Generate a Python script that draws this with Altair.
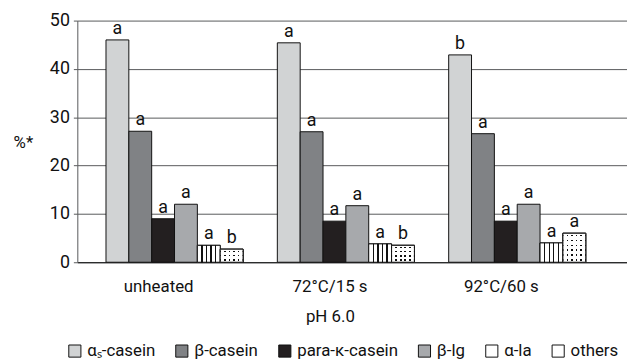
import altair as alt
import pandas as pd

groups = ["unheated", "72°C/15 s", "92°C/60 s"]
proteins = ["αₛ-casein", "β-casein", "para-κ-casein", "β-lg", "α-la", "others"]
colors = ["#d1d3d4", "#808285", "#231f20", "#a7a9ac", "#ffffff", "#ffffff"]

vals_unheated = [46.0, 27.1, 9.0, 12.0, 3.5, 2.7]
vals_72 = [45.4, 27.0, 8.5, 11.7, 3.8, 3.5]
vals_92 = [42.9, 26.6, 8.5, 12.0, 4.0, 6.0]
letters_unheated = ["a", "a", "a", "a", "a", "b"]
letters_72 = ["a", "a", "a", "a", "a", "b"]
letters_92 = ["b", "a", "a", "a", "a", "a"]

rows = []
for g, vs, ls in [(groups[0], vals_unheated, letters_unheated),
                  (groups[1], vals_72, letters_72),
                  (groups[2], vals_92, letters_92)]:
    for p, v, l in zip(proteins, vs, ls):
        rows.append({"group": g, "protein": p, "value": v, "letter": l})
df = pd.DataFrame(rows)

FONT = "Roboto"

x = alt.X("group:N", sort=groups, title="pH 6.0",
          scale=alt.Scale(domain=groups, paddingInner=0.2, paddingOuter=0.204, align=0.41),
          axis=alt.Axis(labelAngle=0, ticks=False, tickSize=0, labelPadding=17,
                        labelOffset=-16, labelFontSize=17, labelFont=FONT, labelColor="#111",
                        domainColor="#111", domainWidth=1.2,
                        titleFontSize=17, titleFont=FONT, titleFontWeight="normal",
                        titleColor="#111",
                        titleX=255, titleY=55, titleAlign="center", titleBaseline="middle"))
xo = alt.XOffset("protein:N", scale=alt.Scale(domain=proteins, paddingInner=0, paddingOuter=0))
y = alt.Y("value:Q", title="%*",
          scale=alt.Scale(domain=[0, 50], nice=False),
          axis=alt.Axis(values=[0, 10, 20, 30, 40, 50], grid=True, gridColor="#58595b",
                        gridWidth=1, domainColor="#58595b", tickColor="#58595b",
                        tickSize=4, labelFontSize=18, labelFont=FONT, labelPadding=4,
                        labelColor="#111",
                        titleAngle=0, titleX=-55, titleY=123, titleAlign="center",
                        titleBaseline="middle", titleFontSize=17, titleFont=FONT,
                        titleFontWeight="normal", titleColor="#111"))

base = alt.Chart(df).encode(x=x, xOffset=xo, y=y)

bars = base.mark_bar(stroke="#111", strokeWidth=1).encode(
    fill=alt.Fill("protein:N", scale=alt.Scale(domain=proteins, range=colors),
                  legend=alt.Legend(orient="none", legendX=-11, legendY=325,
                                    direction="horizontal", columns=6, title=None,
                                    symbolType="square", symbolSize=150,
                                    symbolStrokeColor="#111", symbolStrokeWidth=1,
                                    labelFontSize=17, labelFont=FONT, labelColor="#111",
                                    labelOffset=4, columnPadding=18))
)


def stripe_stops(positions, width, line_color="#111", bg="#ffffff"):
    stops = [alt.GradientStop(offset=0, color=bg)]
    for p in positions:
        stops += [alt.GradientStop(offset=p - width / 2, color=bg),
                  alt.GradientStop(offset=p - width / 2, color=line_color),
                  alt.GradientStop(offset=p + width / 2, color=line_color),
                  alt.GradientStop(offset=p + width / 2, color=bg)]
    stops.append(alt.GradientStop(offset=1, color=bg))
    return stops


vstripes = alt.Gradient(gradient="linear", x1=0, x2=1, y1=0, y2=0,
                        stops=stripe_stops([0.2, 0.4, 0.6, 0.8], 0.06))
dotcols = alt.Gradient(gradient="linear", x1=0, x2=1, y1=0, y2=0,
                       stops=stripe_stops([0.2, 0.4, 0.6, 0.8], 0.07))

la_layer = base.mark_bar(fill=vstripes, stroke="#111", strokeWidth=1).transform_filter(
    alt.datum.protein == "α-la")
oth_base = base.mark_bar(fill=dotcols, stroke="#111", strokeWidth=1).transform_filter(
    alt.datum.protein == "others")

oth_layers = []
for g, v in zip(groups, [vals_unheated[5], vals_72[5], vals_92[5]]):
    n = max(2, round(v * 1.08))
    stops = [alt.GradientStop(offset=0, color="#ffffff")]
    gap = 0.32 / n
    for i in range(n):
        c = (i + 0.5) / n
        stops += [alt.GradientStop(offset=c - gap / 2, color="#ffffff"),
                  alt.GradientStop(offset=c - gap / 2, color="rgba(255,255,255,0)"),
                  alt.GradientStop(offset=c + gap / 2, color="rgba(255,255,255,0)"),
                  alt.GradientStop(offset=c + gap / 2, color="#ffffff")]
    stops.append(alt.GradientStop(offset=1, color="#ffffff"))
    grad = alt.Gradient(gradient="linear", x1=0, x2=0, y1=0, y2=1, stops=stops)
    oth_layers.append(
        base.mark_bar(fill=grad, stroke="#111", strokeWidth=1).transform_filter(
            (alt.datum.protein == "others") & (alt.datum.group == g)))

labels = base.mark_text(baseline="bottom", dy=-2, fontSize=18, font=FONT,
                        color="#111").encode(text="letter:N")

chart = alt.layer(bars, la_layer, oth_base, *oth_layers, labels).properties(
    width=555, height=244,
    autosize=alt.AutoSizeParams(type="none"),
    padding={"left": 70, "top": 11, "right": 0, "bottom": 97},
).configure(font=FONT).configure_view(strokeWidth=0)

chart.save("out.html", embed_options={"renderer": "svg", "actions": False})
